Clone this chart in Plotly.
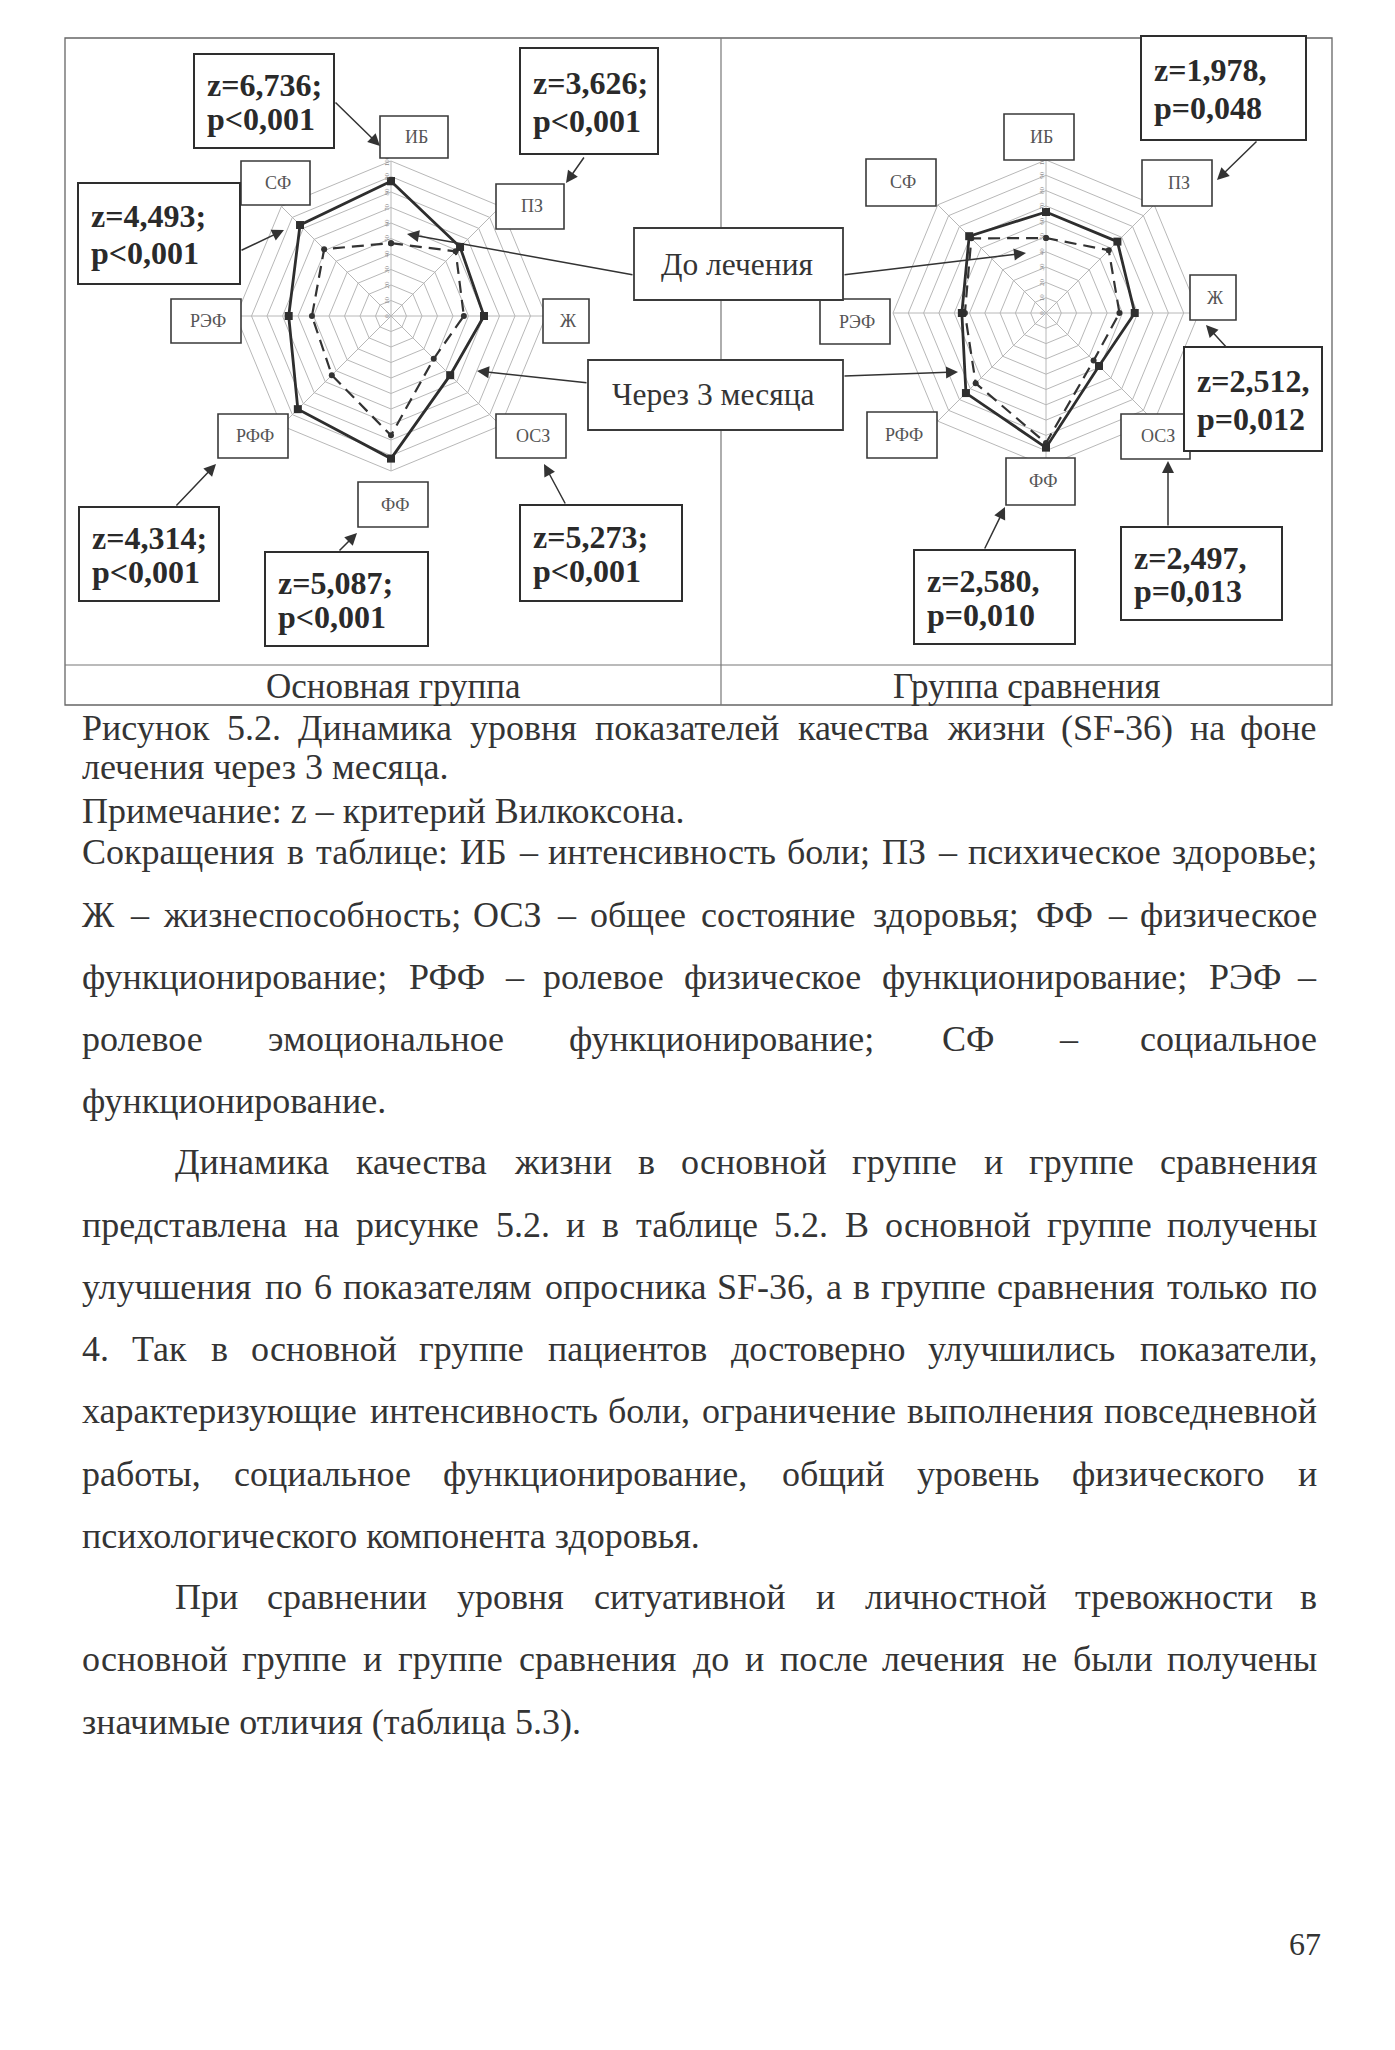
import plotly.graph_objects as go

W, H = 1395, 2050
OFF = 8  # default page margin of the html body

# ---------------- data ----------------
categories = ["ИБ", "ПЗ", "Ж", "ОСЗ", "ФФ", "РФФ", "РЭФ", "СФ"]
main_after = [87, 63, 60, 54, 92, 85, 66, 83]     # Через 3 месяца (solid)
main_before = [47, 59, 47, 39, 77, 54, 51, 61]    # До лечения (dashed)
comp_after = [66, 66, 58, 49, 88, 74, 55, 71]
comp_before = [49, 58, 48, 44, 85, 65, 53, 69]
radial_ticks = list(range(0, 101, 10))

main_stats = [("z=6,736;", "p<0,001"), ("z=3,626;", "p<0,001"), ("z=4,493;", "p<0,001"),
              ("z=4,314;", "p<0,001"), ("z=5,087;", "p<0,001"), ("z=5,273;", "p<0,001")]
comp_stats = [("z=1,978,", "p=0,048"), ("z=2,512,", "p=0,012"),
              ("z=2,580,", "p=0,010"), ("z=2,497,", "p=0,013")]
series_names = ["До лечения", "Через 3 месяца"]
group_names = ["Основная группа", "Группа сравнения"]

# text of the page: (text, justified, indent)
caption_lines = [
    ("Рисунок 5.2. Динамика уровня показателей качества жизни (SF-36) на фоне", True, False),
    ("лечения через 3 месяца.", False, False),
    ("Примечание: z – критерий Вилкоксона.", False, False),
    ("Сокращения в таблице: ИБ – интенсивность боли; ПЗ – психическое здоровье;", True, False),
    ("Ж – жизнеспособность; ОСЗ – общее состояние здоровья; ФФ – физическое", True, False),
    ("функционирование; РФФ – ролевое физическое функционирование; РЭФ –", True, False),
    ("ролевое эмоциональное функционирование; СФ – социальное", True, False),
    ("функционирование.", False, False),
    ("Динамика качества жизни в основной группе и группе сравнения", True, True),
    ("представлена на рисунке 5.2. и в таблице 5.2. В основной группе получены", True, False),
    ("улучшения по 6 показателям опросника SF-36, а в группе сравнения только по", True, False),
    ("4. Так в основной группе пациентов достоверно улучшились показатели,", True, False),
    ("характеризующие интенсивность боли, ограничение выполнения повседневной", True, False),
    ("работы, социальное функционирование, общий уровень физического и", True, False),
    ("психологического компонента здоровья.", False, False),
    ("При сравнении уровня ситуативной и личностной тревожности в", True, True),
    ("основной группе и группе сравнения до и после лечения не были получены", True, False),
    ("значимые отличия (таблица 5.3).", False, False),
]
line_y = [728, 767, 811, 852, 915, 977, 1039, 1101, 1162, 1225, 1287, 1349,
          1411, 1474, 1536, 1597, 1659, 1722]
page_number = "67"

# ---------------- helpers ----------------
def px(x):
    return (x - OFF) / W

def py(y):
    return 1 - (y - OFF) / H

TXT = "#343434"
SERIF = "Liberation Serif"

fig = go.Figure()

closed = lambda v: v + v[:1]
cats_c = closed(categories)

for sub, after, before in (("polar", main_after, main_before), ("polar2", comp_after, comp_before)):
    fig.add_trace(go.Scatterpolar(r=closed(before), theta=cats_c, subplot=sub, mode="lines+markers",
                                  line=dict(color="#333333", width=2.2, dash="12px,7px"),
                                  marker=dict(symbol="circle", size=6, color="#333333"),
                                  name=series_names[0], showlegend=False))
    fig.add_trace(go.Scatterpolar(r=closed(after), theta=cats_c, subplot=sub, mode="lines+markers",
                                  line=dict(color="#2e2e2e", width=2.8),
                                  marker=dict(symbol="square", size=8, color="#2e2e2e"),
                                  name=series_names[1], showlegend=False))

def polar_layout(cx, cy, R):
    return dict(
        domain=dict(x=[px(cx - R), px(cx + R)], y=[py(cy + R), py(cy - R)]),
        gridshape="linear",
        bgcolor="rgba(0,0,0,0)",
        radialaxis=dict(range=[0, 100], tickvals=radial_ticks, tickfont=dict(size=7, color="#8a8a8a", family=SERIF),
                        gridcolor="#b8b8b8", gridwidth=1, showline=False, ticks="", angle=90,
                        side="counterclockwise"),
        angularaxis=dict(rotation=90, direction="clockwise", showticklabels=False, ticks="",
                         gridcolor="#b8b8b8", linecolor="#b8b8b8", showline=True, categoryorder="array",
                         categoryarray=categories),
    )

shapes = []
annotations = []

def rect(x0, y0, x1, y1, lw=1.6, color="#3a3a3a", fill="white"):
    shapes.append(dict(type="rect", xref="paper", yref="paper", x0=px(x0), x1=px(x1), y0=py(y1), y1=py(y0),
                       line=dict(color=color, width=lw), fillcolor=fill, layer="above"))

def line(x0, y0, x1, y1, lw=1.3, color="#555555"):
    shapes.append(dict(type="line", xref="paper", yref="paper", x0=px(x0), x1=px(x1), y0=py(y0), y1=py(y1),
                       line=dict(color=color, width=lw), layer="above"))

def text(x, y, s, size, anchor="center", bold=False, color=TXT):
    annotations.append(dict(xref="paper", yref="paper", x=px(x), y=py(y), text=(f"<b>{s}</b>" if bold else s),
                            showarrow=False, xanchor=anchor, yanchor="middle",
                            font=dict(size=size, family=SERIF, color=color), borderpad=0))

def arrow(tx, ty, hx, hy):
    annotations.append(dict(xref="paper", yref="paper", x=px(hx), y=py(hy), ax=tx - hx, ay=ty - hy,
                            axref="pixel", ayref="pixel", text="", showarrow=True, arrowhead=2,
                            arrowsize=1.6, arrowwidth=1.5, arrowcolor="#333333", standoff=0))

# frame of the figure table
shapes.append(dict(type="rect", xref="paper", yref="paper", x0=px(65), x1=px(1332), y0=py(705), y1=py(38),
                   line=dict(color="#666666", width=1.3), layer="below"))
line(721, 38, 721, 705, lw=1.2, color="#777777")
line(65, 665, 1332, 665, lw=1.2, color="#777777")
text(393, 686, group_names[0], 35)
text(1026, 686, group_names[1], 35)

# category label boxes
main_boxes = [(380, 116, 448, 158), (496, 184, 564, 229), (543, 299, 589, 343), (496, 414, 566, 458),
              (358, 482, 428, 527), (218, 414, 288, 458), (171, 299, 241, 343), (241, 161, 310, 205)]
comp_boxes = [(1004, 114, 1074, 160), (1142, 160, 1212, 206), (1190, 275, 1236, 320), (1121, 414, 1190, 459),
              (1006, 458, 1075, 505), (867, 412, 937, 458), (820, 299, 890, 344), (866, 159, 936, 206)]
for boxes in (main_boxes, comp_boxes):
    for cat, (x0, y0, x1, y1) in zip(categories, boxes):
        rect(x0, y0, x1, y1, lw=1.6)
        text((x0 + x1) / 2 + 2, (y0 + y1) / 2, cat, 18, color="#555555")

# z / p boxes
main_zboxes = [(194, 54, 334, 148), (520, 48, 658, 154), (78, 183, 240, 284),
               (79, 507, 219, 601), (265, 552, 428, 646), (520, 505, 682, 601)]
comp_zboxes = [(1141, 36, 1306, 140), (1184, 347, 1322, 451), (914, 550, 1075, 644), (1121, 527, 1282, 620)]
for stats, boxes in ((main_stats, main_zboxes), (comp_stats, comp_zboxes)):
    for (a, b), (x0, y0, x1, y1) in zip(stats, boxes):
        rect(x0, y0, x1, y1, lw=2.0, color="#2e2e2e")
        h = y1 - y0
        text(x0 + 12, y0 + 0.33 * h, a, 32, anchor="left", bold=True, color="#2a2a2a")
        text(x0 + 12, y0 + 0.69 * h, b, 32, anchor="left", bold=True, color="#2a2a2a")

# legend boxes
rect(634, 228, 843, 300, lw=1.8)
text(737, 264, series_names[0], 31.5)
rect(588, 360, 843, 430, lw=1.8)
text(713, 395, series_names[1], 31.5)

# arrows
for t, h in [((334, 101), (380, 146)), ((585, 156), (566, 183)), ((240, 251), (284, 230)),
             ((175, 507), (216, 464)), ((338, 552), (357, 533)), ((566, 505), (544, 464)),
             ((1258, 140), (1217, 180)), ((1228, 349), (1206, 325)), ((984, 550), (1005, 507)),
             ((1168, 527), (1168, 461)),
             ((634, 275), (407, 234)), ((843, 275), (1026, 253)),
             ((588, 383), (477, 371)), ((843, 376), (958, 372))]:
    arrow(t[0], t[1], h[0], h[1])

# ---------------- body text ----------------
CW = {' ': 250, '.': 250, ',': 250, ';': 278, ':': 278, '(': 333, ')': 333, '-': 333, '–': 500,
      'S': 556, 'F': 556, 'z': 444,
      'а': 444, 'б': 509, 'в': 472, 'г': 410, 'д': 509, 'е': 444, 'ж': 691, 'з': 395, 'и': 535, 'й': 535,
      'к': 486, 'л': 499, 'м': 633, 'н': 535, 'о': 500, 'п': 535, 'р': 500, 'с': 444, 'т': 437, 'у': 500,
      'ф': 648, 'х': 500, 'ц': 535, 'ч': 503, 'ш': 770, 'щ': 770, 'ъ': 517, 'ы': 672, 'ь': 456, 'э': 429,
      'ю': 747, 'я': 489,
      'А': 722, 'Б': 574, 'В': 667, 'Г': 578, 'Д': 682, 'Е': 611, 'Ж': 896, 'З': 501, 'И': 722, 'К': 680,
      'Л': 678, 'М': 889, 'Н': 722, 'О': 722, 'П': 722, 'Р': 556, 'С': 667, 'Т': 611, 'У': 715, 'Ф': 790,
      'Х': 722, 'Ш': 1058, 'Э': 668, 'Ю': 1043, 'Я': 667}

def est_width(word, size):
    return sum(CW.get(c, 500) for c in word) / 1000 * size

FS = 36
LEFT, RIGHT, INDENT = 81, 1318, 174
for (s, just, ind), y in zip(caption_lines, line_y):
    left = INDENT if ind else LEFT
    if not just:
        text(left, y, s, FS, anchor="left")
        continue
    words = s.split(" ")
    widths = [est_width(w, FS) for w in words]
    gap = (RIGHT - left - sum(widths)) / (len(words) - 1)
    x = left
    for i, (w, wd) in enumerate(zip(words, widths)):
        if i == len(words) - 1:
            text(RIGHT, y, w, FS, anchor="right")
        else:
            text(x, y, w, FS, anchor="left")
        x += wd + gap

text(1305, 1944, page_number, 32)

fig.update_layout(
    width=W, height=H,
    margin=dict(l=0, r=0, t=0, b=0),
    paper_bgcolor="white", plot_bgcolor="white",
    polar=polar_layout(391, 316, 155),
    polar2=polar_layout(1046, 313, 153),
    shapes=shapes, annotations=annotations,
    showlegend=False,
)

fig.write_html("out.html")
